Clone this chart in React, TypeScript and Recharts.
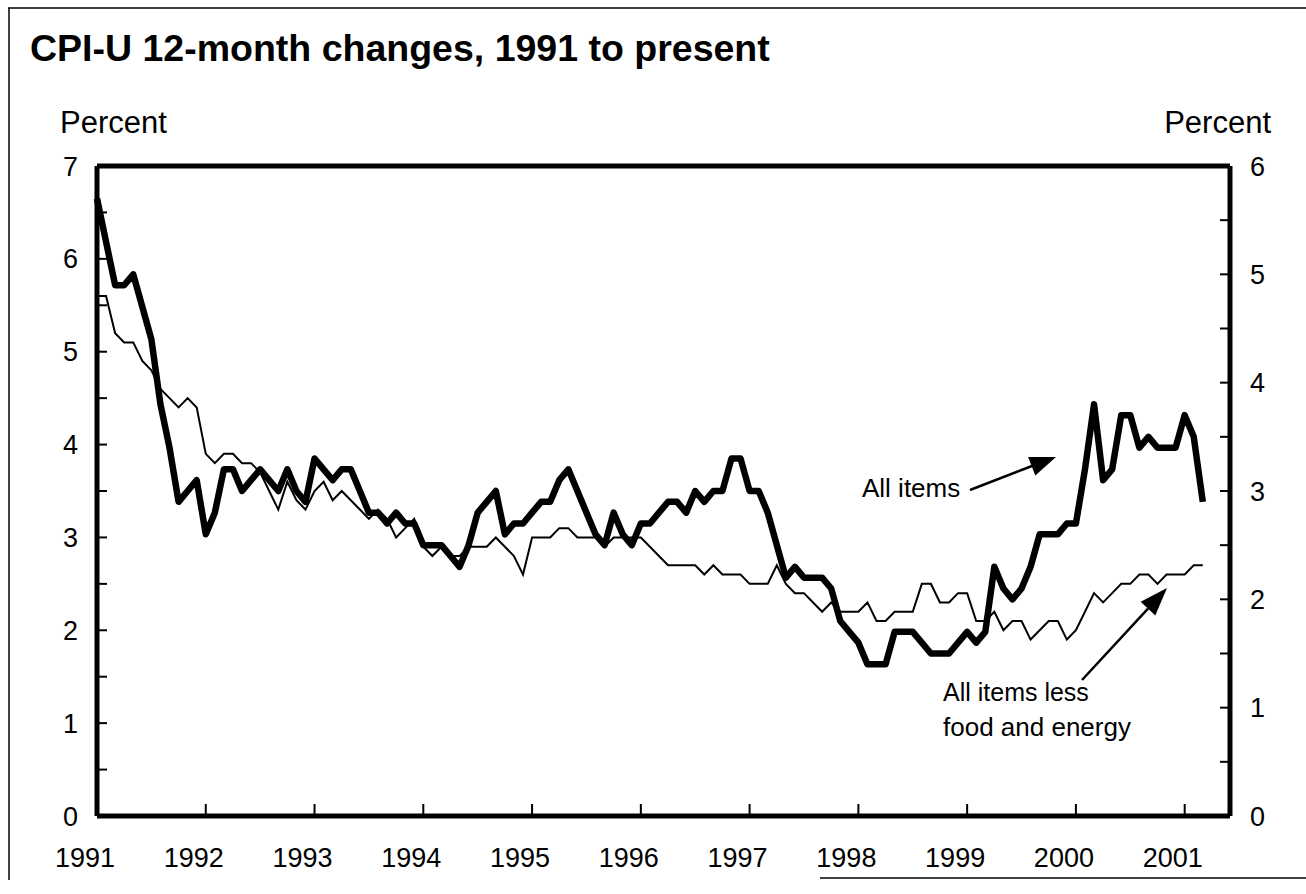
import { LineChart, Line, XAxis, YAxis, ReferenceLine } from "recharts"

// CPI-U 12-month percent changes, Jan 1991 - Mar 2001 (monthly)
const allItems = [
  5.7, 5.3, 4.9, 4.9, 5.0, 4.7, 4.4, 3.8, 3.4, 2.9, 3.0, 3.1,
  2.6, 2.8, 3.2, 3.2, 3.0, 3.1, 3.2, 3.1, 3.0, 3.2, 3.0, 2.9,
  3.3, 3.2, 3.1, 3.2, 3.2, 3.0, 2.8, 2.8, 2.7, 2.8, 2.7, 2.7,
  2.5, 2.5, 2.5, 2.4, 2.3, 2.5, 2.8, 2.9, 3.0, 2.6, 2.7, 2.7,
  2.8, 2.9, 2.9, 3.1, 3.2, 3.0, 2.8, 2.6, 2.5, 2.8, 2.6, 2.5,
  2.7, 2.7, 2.8, 2.9, 2.9, 2.8, 3.0, 2.9, 3.0, 3.0, 3.3, 3.3,
  3.0, 3.0, 2.8, 2.5, 2.2, 2.3, 2.2, 2.2, 2.2, 2.1, 1.8, 1.7,
  1.6, 1.4, 1.4, 1.4, 1.7, 1.7, 1.7, 1.6, 1.5, 1.5, 1.5, 1.6,
  1.7, 1.6, 1.7, 2.3, 2.1, 2.0, 2.1, 2.3, 2.6, 2.6, 2.6, 2.7,
  2.7, 3.2, 3.8, 3.1, 3.2, 3.7, 3.7, 3.4, 3.5, 3.4, 3.4, 3.4,
  3.7, 3.5, 2.9,
]

// All items less food and energy
const lessFoodEnergy = [
  5.6, 5.6, 5.2, 5.1, 5.1, 4.9, 4.8, 4.6, 4.5, 4.4, 4.5, 4.4,
  3.9, 3.8, 3.9, 3.9, 3.8, 3.8, 3.7, 3.5, 3.3, 3.6, 3.4, 3.3,
  3.5, 3.6, 3.4, 3.5, 3.4, 3.3, 3.2, 3.3, 3.2, 3.0, 3.1, 3.2,
  2.9, 2.8, 2.9, 2.8, 2.8, 2.9, 2.9, 2.9, 3.0, 2.9, 2.8, 2.6,
  3.0, 3.0, 3.0, 3.1, 3.1, 3.0, 3.0, 3.0, 2.9, 3.0, 3.0, 3.0,
  3.0, 2.9, 2.8, 2.7, 2.7, 2.7, 2.7, 2.6, 2.7, 2.6, 2.6, 2.6,
  2.5, 2.5, 2.5, 2.7, 2.5, 2.4, 2.4, 2.3, 2.2, 2.3, 2.2, 2.2,
  2.2, 2.3, 2.1, 2.1, 2.2, 2.2, 2.2, 2.5, 2.5, 2.3, 2.3, 2.4,
  2.4, 2.1, 2.1, 2.2, 2.0, 2.1, 2.1, 1.9, 2.0, 2.1, 2.1, 1.9,
  2.0, 2.2, 2.4, 2.3, 2.4, 2.5, 2.5, 2.6, 2.6, 2.5, 2.6, 2.6,
  2.6, 2.7, 2.7,
]

const yearTicks = [0, 12, 24, 36, 48, 60, 72, 84, 96, 108, 120]
const yearLabels = ["1991", "1992", "1993", "1994", "1995", "1996", "1997", "1998", "1999", "2000", "2001"]
const leftTicks = [0, 0.5, 1, 1.5, 2, 2.5, 3, 3.5, 4, 4.5, 5, 5.5, 6, 6.5, 7]
const rightTicks = [0, 0.5, 1, 1.5, 2, 2.5, 3, 3.5, 4, 4.5, 5, 5.5, 6]

const data = allItems.map((v, i) => ({ month: i, allItems: v, lessFoodEnergy: lessFoodEnergy[i] }))

const FONT = "'Liberation Sans', Arial, Helvetica, sans-serif"
const tickStyle = { fill: "#000", fontSize: 27, fontFamily: FONT }
const wholeOnly = (v: number) => (Number.isInteger(v) ? String(v) : "")

export default function App() {
  return (
    <div style={{ position: "absolute", left: 0, top: 0, width: 1306, height: 894, background: "#fff" }}>
      <LineChart
        width={1306}
        height={894}
        data={data}
        margin={{ top: 166, right: 16, left: 37, bottom: 28 }}
      >
        <XAxis
          dataKey="month"
          type="number"
          domain={[0, 125]}
          ticks={yearTicks}
          interval={0}
          tickFormatter={(v: number) => yearLabels[yearTicks.indexOf(v)]}
          height={50}
          tickSize={-12}
          tickMargin={44}
          tick={{ ...tickStyle, dx: -12 }}
          axisLine={{ stroke: "#000", strokeWidth: 5 }}
          tickLine={{ stroke: "#000", strokeWidth: 2 }}
        />
        <YAxis
          yAxisId="left"
          domain={[0, 7]}
          ticks={leftTicks}
          interval={0}
          tickFormatter={wholeOnly}
          width={60}
          tickSize={-10}
          tickMargin={29}
          tick={tickStyle}
          axisLine={{ stroke: "#000", strokeWidth: 5 }}
          tickLine={{ stroke: "#000", strokeWidth: 2 }}
        />
        <YAxis
          yAxisId="right"
          orientation="right"
          domain={[0, 6]}
          ticks={rightTicks}
          interval={0}
          tickFormatter={wholeOnly}
          width={60}
          tickSize={-10}
          tickMargin={30}
          tick={tickStyle}
          axisLine={{ stroke: "#000", strokeWidth: 5 }}
          tickLine={{ stroke: "#000", strokeWidth: 2 }}
        />
        <ReferenceLine yAxisId="left" y={7} stroke="#000" strokeWidth={5} />
        <Line
          yAxisId="left"
          type="linear"
          dataKey="lessFoodEnergy"
          stroke="#000"
          strokeWidth={2}
          dot={false}
          isAnimationActive={false}
        />
        <Line
          yAxisId="right"
          type="linear"
          dataKey="allItems"
          stroke="#000"
          strokeWidth={6.5}
          strokeLinejoin="round"
          dot={false}
          isAnimationActive={false}
        />
      </LineChart>

      {/* title, axis captions, annotations */}
      <svg
        width={1306}
        height={894}
        style={{ position: "absolute", left: 0, top: 0, pointerEvents: "none" }}
        fontFamily={FONT}
      >
        <line x1={8} y1={8} x2={1306} y2={8} stroke="#000" strokeWidth={1.5} />
        <line x1={9} y1={8} x2={9} y2={880} stroke="#000" strokeWidth={1.5} />
        <line x1={820} y1={878} x2={1306} y2={878} stroke="#000" strokeWidth={1.5} />

        <text x={30} y={61} fontSize={37.5} fontWeight="bold">CPI-U 12-month changes, 1991 to present</text>
        <text x={60} y={133} fontSize={31}>Percent</text>
        <text x={1271} y={133} fontSize={31} textAnchor="end">Percent</text>

        <text x={862} y={497} fontSize={26}>All items</text>
        <line x1={970} y1={490} x2={1032} y2={466} stroke="#000" strokeWidth={2.5} />
        <polygon points="1056,457 1035.3,475.6 1028.1,457" fill="#000" />

        <text x={943} y={701} fontSize={25}>All items less</text>
        <text x={943} y={736} fontSize={26}>food and energy</text>
        <line x1={1082} y1={680} x2={1148} y2={608.6} stroke="#000" strokeWidth={2.5} />
        <polygon points="1167,588 1155.3,615.4 1140.7,601.8" fill="#000" />
      </svg>
    </div>
  )
}
